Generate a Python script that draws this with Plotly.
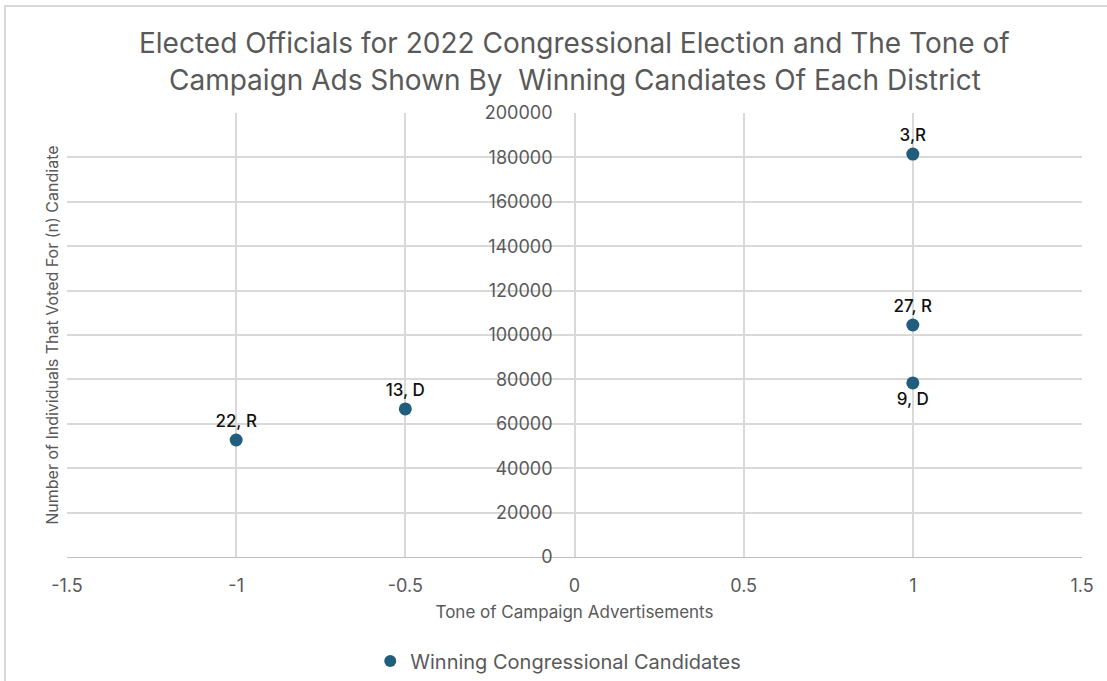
import plotly.graph_objects as go

tone = [-1, -0.5, 1, 1, 1]
votes = [52700, 66700, 181500, 104500, 78400]
labels = ["22, R", "13, D", "3,R", "27, R", "9, D"]
label_pos = ["top center", "top center", "top center", "top center", "bottom center"]

x_ticks = [-1.5, -1, -0.5, 0, 0.5, 1, 1.5]
x_tick_text = ["-1.5", "-1", "-0.5", "0", "0.5", "1", "1.5"]
y_ticks = list(range(0, 200001, 20000))

title_lines = ["Elected Officials for 2022 Congressional Election and The Tone of",
               "Campaign Ads Shown By  Winning Candiates Of Each District"]

GRAY = "#595959"
FONT = "Inter, Liberation Sans, Arial, sans-serif"

fig = go.Figure()
fig.add_trace(go.Scatter(
    x=tone, y=votes, mode="markers+text",
    text=labels, textposition=label_pos,
    textfont=dict(size=17, color="#111111", family=FONT, weight=500),
    marker=dict(size=13, color="#215E7E"),
    name="Winning Congressional Candidates",
))

fig.update_layout(
    width=1107, height=681,
    margin=dict(l=67, r=25, t=113, b=124),
    paper_bgcolor="white", plot_bgcolor="white",
    font=dict(family=FONT, color=GRAY),
    xaxis=dict(
        range=[-1.5, 1.5], tickvals=x_ticks, ticktext=x_tick_text,
        showgrid=True, gridcolor="#D9D9D9", gridwidth=1.5,
        zeroline=False, showline=True, linecolor="#BFBFBF", linewidth=1,
        tickfont=dict(size=18, color=GRAY), ticks="", ticklabelstandoff=12,
        automargin=False,
        title=dict(text="Tone of Campaign Advertisements", font=dict(size=17, color=GRAY), standoff=11),
    ),
    yaxis=dict(
        range=[0, 200000], tickvals=y_ticks, tickformat="d",
        showgrid=True, gridcolor="#D9D9D9", gridwidth=1.5,
        zeroline=False, showline=False,
        anchor="free", position=0.5, ticks="", ticklabelstandoff=22,
        tickfont=dict(size=18, color=GRAY), automargin=False,
    ),
    showlegend=True,
    legend=dict(orientation="h", x=0.484, xanchor="center",
                yref="container", y=1 - 661 / 681, yanchor="middle",
                font=dict(size=20, color=GRAY), itemsizing="constant",
                itemwidth=30),
)

for i, line in enumerate(title_lines):
    fig.add_annotation(
        text=line, xref="paper", yref="paper", x=0.5, y=(557 - [43, 80][i]) / 444,
        showarrow=False, xanchor="center", yanchor="middle",
        font=dict(size=28, color=GRAY, family=FONT),
    )

fig.add_annotation(
    text="Number of Individuals That Voted For (n) Candiate",
    xref="paper", yref="paper", x=-0.015, y=0.5, textangle=-90,
    showarrow=False, xanchor="center", yanchor="middle",
    font=dict(size=16, color=GRAY, family=FONT),
)

# outer chart frame (cropped at right and bottom)
fig.add_shape(type="rect", xref="paper", yref="paper",
              x0=-0.0611, x1=1.2, y0=-0.6, y1=1.241,
              line=dict(color="#D9D9D9", width=2), layer="below")

fig.write_html("out.html")
